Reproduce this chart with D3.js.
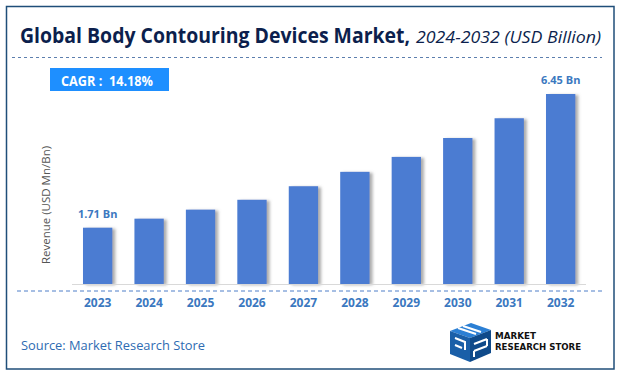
<!DOCTYPE html>
<html>
<head>
<meta charset="utf-8">
<script src="https://cdn.jsdelivr.net/npm/d3@7"></script>
<style>
  body { margin: 0; background: #fff; }
  svg { display: block; }
</style>
</head>
<body>
<div id="chart"></div>
<script>
// chart data
var years = ["2023", "2024", "2025", "2026", "2027", "2028", "2029", "2030", "2031", "2032"];
var revenue = [1.71, 2.03, 2.35, 2.70, 3.18, 3.69, 4.22, 4.89, 5.59, 6.45];
var labelled = {"2023": "1.71 Bn", "2032": "6.45 Bn"};
var cagrText = "CAGR :  14.18%";

var fontMain = "Open Sans";
var barColor = "#4b7bd2";
var textBlue = "#3b78c0";

var W = 622, H = 377;

var svg = d3.select("#chart")
  .append("svg")
    .attr("width", W)
    .attr("height", H);

// drop shadow for bars
var defs = svg.append("defs");
var f = defs.append("filter").attr("id", "shadow")
  .attr("x", "-20%").attr("y", "-10%").attr("width", "160%").attr("height", "130%");
f.append("feDropShadow")
  .attr("dx", 3).attr("dy", 1)
  .attr("stdDeviation", 1.8)
  .attr("flood-color", "#777")
  .attr("flood-opacity", 0.6);

// outer frame
svg.append("rect")
  .attr("x", 6.5).attr("y", 6.5)
  .attr("width", 607.5).attr("height", 362.5)
  .attr("fill", "none")
  .attr("stroke", "#1f4e79")
  .attr("stroke-width", 1.5);

// title
svg.append("text")
  .attr("x", 20).attr("y", 43)
  .attr("font-family", fontMain)
  .attr("font-weight", 700)
  .attr("font-size", 20.5)
  .attr("fill", "#0c1f4d")
  .attr("textLength", 390)
  .attr("lengthAdjust", "spacingAndGlyphs")
  .text("Global Body Contouring Devices Market,");
svg.append("text")
  .attr("x", 416).attr("y", 43)
  .attr("font-family", fontMain)
  .attr("font-style", "italic")
  .attr("font-size", 16)
  .attr("fill", "#0c1f4d")
  .attr("textLength", 185)
  .attr("lengthAdjust", "spacingAndGlyphs")
  .text("2024-2032 (USD Billion)");

svg.append("line")
  .attr("x1", 12).attr("x2", 602)
  .attr("y1", 57.5).attr("y2", 57.5)
  .attr("stroke", "#5d7fae")
  .attr("stroke-width", 1)
  .attr("stroke-dasharray", "3,3");

// CAGR box
svg.append("rect")
  .attr("x", 50).attr("y", 68)
  .attr("width", 119).attr("height", 23)
  .attr("fill", "#1e8fff");
svg.append("text")
  .attr("x", 61).attr("y", 85.5)
  .attr("font-family", fontMain)
  .attr("font-weight", 700)
  .attr("font-size", 15)
  .attr("fill", "#fff")
  .style("white-space", "pre")
  .attr("textLength", 92)
  .attr("lengthAdjust", "spacingAndGlyphs")
  .text(cagrText);

// scales
var x = d3.scaleBand()
  .domain(years)
  .range([72.7, 585.6])
  .paddingInner(0.43)
  .paddingOuter(0.2);

var y = d3.scaleLinear()
  .domain([-0.286, 6.45])
  .range([284, 94]);

// y axis title
svg.append("text")
  .attr("transform", "translate(50,205) rotate(-90)")
  .attr("text-anchor", "middle")
  .attr("font-family", fontMain)
  .attr("font-size", 11.5)
  .attr("fill", "#555")
  .text("Revenue (USD Mn/Bn)");

// bars
svg.append("g")
  .selectAll("rect")
  .data(years)
  .enter()
  .append("rect")
    .attr("x", function(d) { return x(d); })
    .attr("y", function(d, i) { return y(revenue[i]); })
    .attr("width", x.bandwidth())
    .attr("height", function(d, i) { return y.range()[0] - y(revenue[i]); })
    .attr("fill", barColor)
    .attr("filter", "url(#shadow)");

// baseline
svg.append("line")
  .attr("x1", 72).attr("x2", 586)
  .attr("y1", 284.5).attr("y2", 284.5)
  .attr("stroke", "#d9d9d9")
  .attr("stroke-width", 1);

// dashed line below
svg.append("line")
  .attr("x1", 17).attr("x2", 603)
  .attr("y1", 291).attr("y2", 291)
  .attr("stroke", "#4f7fc8")
  .attr("stroke-width", 1)
  .attr("stroke-dasharray", "4,3");

// x axis labels
var xAxis = svg.append("g")
  .attr("transform", "translate(0,290)")
  .call(d3.axisBottom(x).tickSize(0).tickPadding(8));
xAxis.select(".domain").remove();
xAxis.selectAll("text")
  .attr("font-family", fontMain)
  .attr("font-weight", 700)
  .attr("font-size", 12)
  .attr("fill", textBlue)
  .attr("dy", "0.71em");

// value labels
svg.append("g")
  .selectAll("text")
  .data(years.filter(function(d) { return labelled[d]; }))
  .enter()
  .append("text")
    .attr("x", function(d) { return x(d) + x.bandwidth() / 2; })
    .attr("y", function(d) { return y(revenue[years.indexOf(d)]) - 10; })
    .attr("text-anchor", "middle")
    .attr("font-family", fontMain)
    .attr("font-weight", 700)
    .attr("font-size", 11)
    .attr("fill", textBlue)
    .text(function(d) { return labelled[d]; });

// source
svg.append("text")
  .attr("x", 21).attr("y", 350)
  .attr("font-family", fontMain)
  .attr("font-size", 13)
  .attr("fill", "#2e6bb2")
  .attr("textLength", 184)
  .attr("lengthAdjust", "spacingAndGlyphs")
  .text("Source: Market Research Store");

// logo cube (rough)
var logo = svg.append("g");
logo.append("path")
  .attr("d", "M450,331 L471,323 L491,330 L470,338 Z")
  .attr("fill", "#2b7fd4");
logo.append("path")
  .attr("d", "M450,331 L470,338 L470,362 L450,354 Z")
  .attr("fill", "#1a5fa8");
logo.append("path")
  .attr("d", "M470,338 L491,330 L491,353 L470,362 Z")
  .attr("fill", "#0f4a8a");
logo.append("path")
  .attr("d", "M458,328 L476,334 M463,326 L481,332 M455,338 L465,342 L465,350 M455,345 L462,348 M474,344 L487,339 M474,351 L487,346 M487,339 L487,346 M474,351 L474,357")
  .attr("stroke", "#fff")
  .attr("stroke-width", 2)
  .attr("fill", "none");

svg.append("text")
  .attr("x", 495).attr("y", 339)
  .attr("font-family", "DejaVu Sans Condensed, DejaVu Sans")
  .attr("font-weight", 700)
  .attr("font-size", 9)
  .attr("fill", "#111")
  .attr("textLength", 41)
  .attr("lengthAdjust", "spacingAndGlyphs")
  .text("MARKET");
svg.append("text")
  .attr("x", 495).attr("y", 350)
  .attr("font-family", "DejaVu Sans Condensed, DejaVu Sans")
  .attr("font-weight", 700)
  .attr("font-size", 9)
  .attr("fill", "#111")
  .attr("textLength", 86)
  .attr("lengthAdjust", "spacingAndGlyphs")
  .text("RESEARCH STORE");
</script>
</body>
</html>
